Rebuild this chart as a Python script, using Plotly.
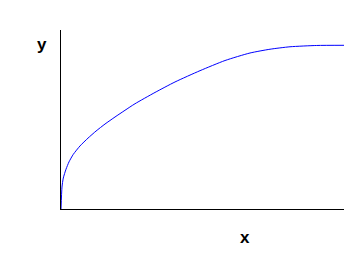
import plotly.graph_objects as go

# values (x in 0..10, y normalized to the plateau)
x_vals = [0, 0.035, 0.081, 0.177, 0.283, 0.435, 0.671, 0.954, 1.237, 1.555, 1.908,
          2.261, 2.615, 3.322, 4.028, 4.912, 5.795, 6.678, 7.385, 8.092, 9.035, 10.0]
y_vals = [0, 0.134, 0.189, 0.243, 0.288, 0.334, 0.385, 0.433, 0.476, 0.519, 0.562,
          0.603, 0.643, 0.712, 0.776, 0.845, 0.907, 0.953, 0.976, 0.991, 0.999, 1.0]

fig = go.Figure()
fig.add_trace(go.Scatter(x=x_vals, y=y_vals, mode="lines",
                         line=dict(color="#0000ff", width=1, shape="spline", smoothing=0.6),
                         hoverinfo="skip"))

axis_common = dict(showgrid=False, zeroline=False, showticklabels=False, ticks="",
                   showline=True, linecolor="black", linewidth=1)

fig.update_layout(
    width=360, height=270,
    margin=dict(l=53, r=24, t=22, b=69),
    paper_bgcolor="white", plot_bgcolor="white",
    showlegend=False,
    xaxis=dict(range=[0, 10], **axis_common),
    yaxis=dict(range=[0, 1.0935], **axis_common),
    annotations=[
        dict(text="<b>x</b>", xref="paper", yref="paper", x=0.651, y=-0.158,
             xanchor="center", yanchor="middle", showarrow=False,
             font=dict(family="Liberation Sans, Arial", size=17, color="black")),
        dict(text="<b>y</b>", xref="paper", yref="paper", x=-0.068, y=0.92,
             xanchor="center", yanchor="middle", showarrow=False,
             font=dict(family="Liberation Sans, Arial", size=17, color="black")),
    ],
)

fig.write_html("out.html")
